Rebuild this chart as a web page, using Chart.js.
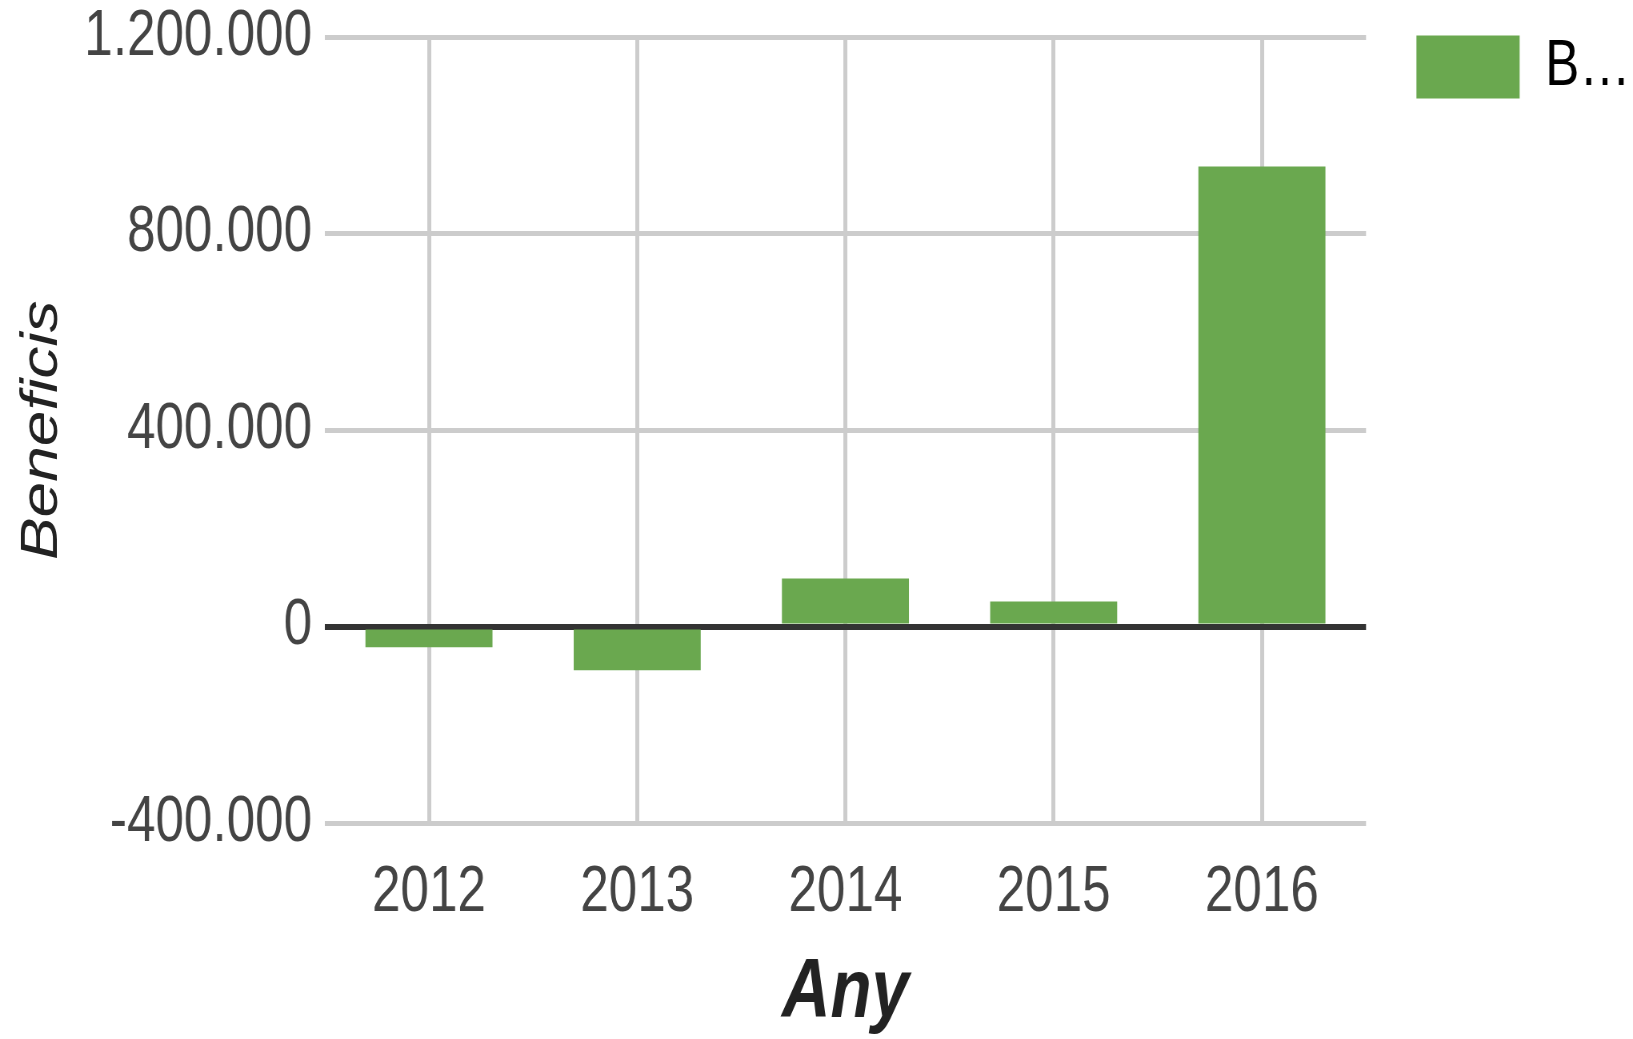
<!DOCTYPE html>
<html>
<head>
<meta charset="utf-8">
<script src="https://cdn.jsdelivr.net/npm/chart.js@4/dist/chart.umd.min.js"></script>
<style>
  html, body { margin: 0; padding: 0; background: #ffffff; }
  #wrap { width: 1633px; height: 1039px; overflow: hidden; }
  #c { display: block; width: 1633px; height: 1039px; }
</style>
</head>
<body>
<div id="wrap"><canvas id="c" width="2041" height="1039" style="width:1633px;height:1039px;"></canvas></div>
<script>
// ---- data ----
const categories = ['2012', '2013', '2014', '2015', '2016'];
const beneficis = [-42000, -89000, 98000, 51000, 937000];
const seriesLabel = 'Beneficis';
const legendText = 'B\u2026';
const yTicks = [-400000, 0, 400000, 800000, 1200000];
const xTitle = 'Any';
const yTitle = 'Beneficis';

function fmt(v) {
  const s = Math.abs(v).toString().replace(/\B(?=(\d{3})+(?!\d))/g, '.');
  return (v < 0 ? '-' : '') + s;
}

const FONT = "'Liberation Sans', Arial, sans-serif";
const GREEN = '#6aa84f';

new Chart(document.getElementById('c'), {
  type: 'bar',
  data: {
    labels: categories,
    datasets: [{
      label: seriesLabel,
      data: beneficis,
      backgroundColor: GREEN,
      borderWidth: 0,
      barPercentage: 0.61,
      categoryPercentage: 1.0
    }]
  },
  options: {
    responsive: false,
    devicePixelRatio: 1,
    animation: false,
    layout: { padding: { top: 0, bottom: 0, left: 0, right: -7 } },
    plugins: {
      tooltip: { enabled: false },
      legend: {
        position: 'right',
        align: 'start',
        labels: {
          boxWidth: 129,
          boxHeight: 63,
          padding: 35,
          color: '#222',
          font: { family: FONT, size: 64, lineHeight: 1.0 },
          generateLabels: () => [{
            text: legendText,
            fillStyle: GREEN,
            strokeStyle: GREEN,
            lineWidth: 0,
            hidden: false,
            datasetIndex: 0
          }]
        }
      }
    },
    scales: {
      x: {
        grid: { color: '#cccccc', lineWidth: 5, offset: false, drawTicks: false },
        border: { display: false },
        ticks: {
          color: '#444',
          padding: 33,
          maxRotation: 0,
          font: { family: FONT, size: 64, lineHeight: 1.17 }
        },
        title: {
          display: true,
          text: xTitle,
          color: '#222',
          font: { family: FONT, size: 84, weight: 'bold', style: 'italic', lineHeight: 1.0 },
          padding: { top: 0, bottom: 3 }
        },
        afterFit: (s) => { s.height = 216; }
      },
      y: {
        min: yTicks[0],
        max: yTicks[yTicks.length - 1],
        afterBuildTicks: (s) => { s.ticks = yTicks.map(v => ({ value: v })); },
        grid: {
          color: (ctx) => (ctx.tick && ctx.tick.value === 0) ? '#333333' : '#cccccc',
          lineWidth: (ctx) => (ctx.tick && ctx.tick.value === 0) ? 6 : 5,
          drawTicks: false
        },
        border: { display: false },
        ticks: {
          color: '#444',
          padding: 16,
          font: { family: FONT, size: 64, lineHeight: 0.67 },
          callback: (v) => fmt(v)
        },
        title: {
          display: true,
          text: yTitle,
          color: '#222',
          font: { family: FONT, size: 64, style: 'italic', lineHeight: 1.0 },
          padding: { top: 21, bottom: 0 }
        },
        afterFit: (s) => { s.width = 406; }
      },
      zero: {
        position: 'right',
        z: 1,
        min: yTicks[0],
        max: yTicks[yTicks.length - 1],
        afterBuildTicks: (s) => { s.ticks = yTicks.map(v => ({ value: v })); },
        grid: {
          color: (ctx) => (ctx.tick && ctx.tick.value === 0) ? '#333333' : 'rgba(0,0,0,0)',
          lineWidth: 6,
          drawTicks: false
        },
        border: { display: false },
        ticks: { display: false },
        afterFit: (s) => { s.width = 28; }
      }
    }
  }
});
</script>
</body>
</html>
